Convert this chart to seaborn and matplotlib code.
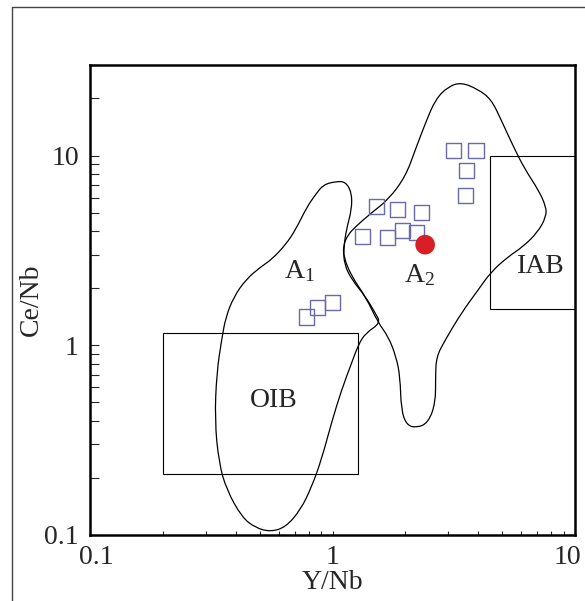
import matplotlib
matplotlib.use("Agg")
import numpy as np
import matplotlib.pyplot as plt
import seaborn as sns
from matplotlib.patches import Rectangle, PathPatch
from matplotlib.path import Path
from matplotlib.lines import Line2D
from matplotlib.transforms import ScaledTranslation
from matplotlib.ticker import LogLocator, FuncFormatter, NullFormatter

# samples (open squares)
sample_yn = [3.15, 3.91, 3.56, 3.53, 1.52, 1.85, 2.32, 1.33, 1.68, 1.94, 2.22, 0.78, 0.87, 1.00]
sample_cenb = [10.6, 10.6, 8.34, 6.15, 5.38, 5.19, 5.00, 3.74, 3.69, 4.02, 3.92, 1.41, 1.58, 1.68]

# reference point (red dot)
ref_yn = [2.41]
ref_cenb = [3.39]

# reference boxes: (x0, x1, y0, y1)
oib_box = [0.20, 1.27, 0.21, 1.16]
iab_box = [4.47, 10.0, 1.56, 10.0]

# A1 field boundary
a1_yn = [1.03, 1.13, 1.20, 1.20, 1.14, 1.11, 1.12, 1.20, 1.37, 1.50, 1.58, 1.37, 1.28,
         1.20, 1.09, 0.99, 0.90, 0.82, 0.738, 0.641, 0.556, 0.482, 0.423, 0.366, 0.340,
         0.327, 0.333, 0.349, 0.363, 0.392, 0.439, 0.506, 0.561, 0.641, 0.705, 0.782,
         0.851, 0.918]
a1_cenb = [7.29, 7.29, 6.38, 5.19, 4.07, 3.19, 2.66, 2.22, 1.80, 1.48, 1.31, 1.16, 1.01,
           0.809, 0.582, 0.390, 0.249, 0.179, 0.1355, 0.110, 0.104, 0.109, 0.124, 0.173,
           0.240, 0.404, 0.716, 1.07, 1.41, 1.80, 2.22, 2.59, 2.83, 3.39, 4.07, 5.32,
           6.23, 7.03]

# A2 field boundary
a2_yn = [3.40, 3.99, 4.51, 4.95, 5.56, 6.22, 7.05, 7.60, 7.60, 7.05, 6.11, 5.30, 4.51,
         3.99, 3.40, 2.92, 2.68, 2.66, 2.66, 2.48, 2.22, 2.02, 1.92, 1.90, 1.83, 1.70,
         1.545, 1.37, 1.20, 1.11, 1.11, 1.16, 1.245, 1.45, 1.70, 2.00, 2.20, 2.42, 2.66,
         3.00]
a2_cenb = [24.3, 22.3, 19.8, 15.5, 11.2, 8.44, 6.62, 5.38, 4.76, 3.97, 3.31, 2.93, 2.44,
           1.96, 1.48, 1.07, 0.869, 0.682, 0.497, 0.390, 0.367, 0.380, 0.457, 0.682,
           0.869, 1.11, 1.31, 1.80, 2.30, 2.93, 3.39, 3.83, 4.22, 5.00, 5.86, 7.75, 10.8,
           14.9, 19.8, 23.1]


def field_path(xs, ys):
    # closed smooth outline: traced points act as quadratic Bezier controls
    x = np.asarray(xs)
    y = np.asarray(ys)
    mx = np.sqrt(x * np.roll(x, -1))
    my = np.sqrt(y * np.roll(y, -1))
    verts = [(mx[-1], my[-1])]
    codes = [Path.MOVETO]
    for i in range(len(x)):
        verts += [(x[i], y[i]), (mx[i], my[i])]
        codes += [Path.CURVE3, Path.CURVE3]
    return Path(verts, codes)


sns.set_style("white")
plt.rcParams["font.family"] = ["Liberation Serif", "DejaVu Serif"]
plt.rcParams["mathtext.fontset"] = "custom"
plt.rcParams["mathtext.rm"] = "Liberation Serif"
plt.rcParams["mathtext.it"] = "Liberation Serif:italic"

fig = plt.figure(figsize=(5.85, 6.01), dpi=100)
ax = fig.add_axes([90 / 585, 66 / 601, 485 / 585, 470 / 601])

ax.set_xscale("log")
ax.set_yscale("log")

for fx, fy in [(a1_yn, a1_cenb), (a2_yn, a2_cenb)]:
    ax.add_patch(PathPatch(field_path(fx, fy), fill=False, edgecolor="black",
                           lw=0.9, zorder=2))

for x0, x1, y0, y1 in [oib_box, iab_box]:
    ax.add_patch(Rectangle((x0, y0), x1 - x0, y1 - y0, fill=False,
                           edgecolor="black", lw=0.8, zorder=2))

sns.scatterplot(x=sample_yn, y=sample_cenb, marker="s", s=120, facecolor="none",
                edgecolor="#6a6aa8", linewidth=1.0, ax=ax, zorder=3)
sns.scatterplot(x=ref_yn, y=ref_cenb, marker="o", s=200, color="#d81f26",
                edgecolor="none", ax=ax, zorder=4)

ax.set_xlim(0.1, 10)
ax.set_ylim(0.1, 30)

fmt = FuncFormatter(lambda v, _: f"{v:g}")
for axis in [ax.xaxis, ax.yaxis]:
    axis.set_major_locator(LogLocator(base=10))
    axis.set_minor_locator(LogLocator(base=10, subs=range(2, 10)))
    axis.set_major_formatter(fmt)
    axis.set_minor_formatter(NullFormatter())

ax.tick_params(axis="y", which="both", direction="in", length=6.5, width=0.8,
               pad=8, labelsize=20, left=True)
ax.tick_params(axis="x", which="both", direction="in", length=3, width=0.8,
               pad=7, labelsize=20, bottom=True)
for sp in ax.spines.values():
    sp.set_linewidth(1.8)
    sp.set_color("black")

# nudge the end x tick labels inwards as in the original
fig.canvas.draw()
xlabels = ax.get_xticklabels()
for lab in xlabels:
    if lab.get_text() == "0.1":
        lab.set_transform(lab.get_transform() + ScaledTranslation(6 / 100, 0, fig.dpi_scale_trans))
    elif lab.get_text() == "10":
        lab.set_transform(lab.get_transform() + ScaledTranslation(-8 / 100, 0, fig.dpi_scale_trans))

ax.set_xlabel("Y/Nb", fontsize=20, labelpad=0)
ax.set_ylabel("Ce/Nb", fontsize=20, labelpad=0)

ax.text(0.628, 2.27, r"A$_1$", fontsize=20, ha="left", va="baseline")
ax.text(1.98, 2.16, r"A$_2$", fontsize=20, ha="left", va="baseline")
ax.text(0.571, 0.509, "OIB", fontsize=20, ha="center", va="center")
ax.text(7.24, 2.59, "IAB", fontsize=20, ha="center", va="center")

fig.add_artist(Line2D([12 / 585, 12 / 585], [0, 1 - 7 / 601],
                      transform=fig.transFigure, color="#444444", lw=1))
fig.add_artist(Line2D([12 / 585, 1], [1 - 7 / 601, 1 - 7 / 601],
                      transform=fig.transFigure, color="#444444", lw=1))

fig.savefig("out.png", dpi=100)
